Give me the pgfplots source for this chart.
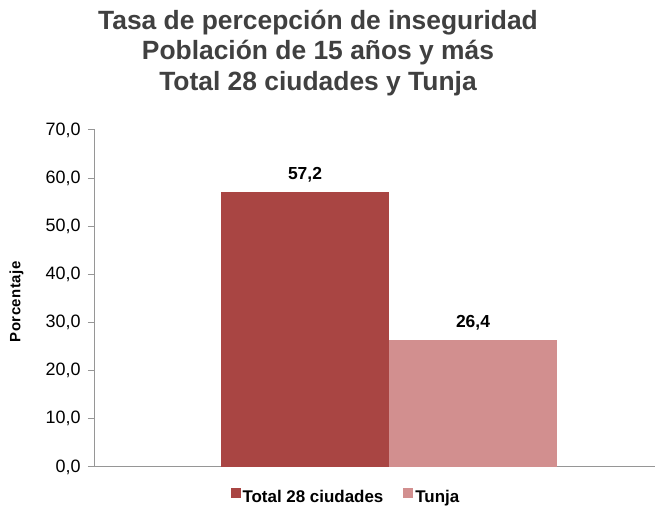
\documentclass[border=0pt]{standalone}
\usepackage{pgfplots}
\pgfplotsset{compat=1.18}
\usepackage{fontspec}
\setmainfont{Liberation Sans}
\pgfkeys{/pgf/number format/assume math mode=true}
\definecolor{barA}{HTML}{A94543}
\definecolor{barB}{HTML}{D28F8F}
\definecolor{axgray}{HTML}{969696}
\definecolor{titlegray}{HTML}{404040}
\begin{document}
\begin{tikzpicture}[x=1bp,y=1bp]
\path[use as bounding box] (-95,-41) rectangle (573,467);
\begin{axis}[
  at={(0,0)}, anchor=south west,
  scale only axis, width=560bp, height=337bp,
  xmin=-0.525, xmax=0.475, ymin=0, ymax=70,
  ybar=0pt, bar width=168bp,
  axis lines*=left,
  axis line style={axgray, line width=1bp},
  xtick=\empty,
  ytick={0,10,...,70},
  tick align=outside,
  major tick length=7bp,
  ytick style={axgray, line width=1bp},
  yticklabel style={font=\fontsize{18}{18}\selectfont, xshift=-4bp},
  yticklabel={\pgfmathprintnumber[fixed,fixed zerofill,precision=1,use comma,assume math mode=true]{\tick}},
  ylabel={Porcentaje},
  ylabel style={at={(axis description cs:-0.14,0.49)}, anchor=center, font=\bfseries\fontsize{15}{15}\selectfont\addfontfeatures{LetterSpace=3}},
  nodes near coords={\pgfmathprintnumber[fixed,fixed zerofill,precision=1,use comma,assume math mode=true]{\pgfplotspointmeta}},
  every node near coord/.append style={font=\bfseries\fontsize{17.5}{17.5}\selectfont, yshift=6bp},
  legend style={at={(axis description cs:0.448,-0.089)}, anchor=center, draw=none, legend columns=2,
    font=\bfseries\fontsize{17}{17}\selectfont, /tikz/every even column/.append style={column sep=18bp}},
  legend image code/.code={\fill[#1] (-2bp,-1bp) rectangle (8bp,9bp);},
]
\addplot[fill=barA, draw=none] coordinates {(0,57.2)};
\addplot[fill=barB, draw=none] coordinates {(0,26.4)};
\legend{Total 28 ciudades, Tunja}
\end{axis}
\node[align=center, font=\bfseries\fontsize{26.5}{31}\selectfont, text=titlegray] at (223,414)
  {Tasa de percepción de inseguridad\\Población de 15 años y más\\Total 28 ciudades y Tunja};
\end{tikzpicture}
\end{document}
